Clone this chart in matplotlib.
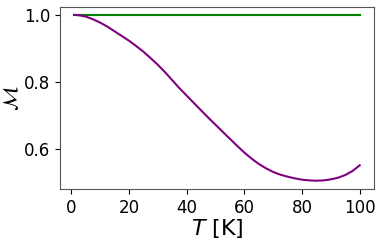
import matplotlib
matplotlib.use("Agg")
import matplotlib.pyplot as plt

# temperature grid (K) and the two curves
T = [1, 2.5, 5, 7.5, 10, 12.5, 15, 17.5, 20, 22.5, 25, 27.5, 30, 32.5, 35, 37.5,
     40, 42.5, 45, 47.5, 50, 52.5, 55, 57.5, 60, 62.5, 65, 67.5, 70, 72.5, 75,
     77.5, 80, 82.5, 85, 87.5, 90, 92.5, 95, 97.5, 100]
M_purple = [1.000, 0.999, 0.995, 0.987, 0.977, 0.965, 0.951, 0.937, 0.923, 0.907,
            0.890, 0.871, 0.851, 0.829, 0.805, 0.781, 0.759, 0.737, 0.715, 0.693,
            0.672, 0.651, 0.630, 0.609, 0.589, 0.571, 0.555, 0.542, 0.531, 0.523,
            0.517, 0.512, 0.508, 0.506, 0.505, 0.506, 0.509, 0.514, 0.522, 0.534,
            0.551]
M_green = [1.0] * len(T)

fig = plt.figure(figsize=(3.84, 2.4), dpi=100)
ax = fig.add_axes([0.156, 0.2125, 0.818, 0.76])

ax.plot(T, M_green, color="green", lw=1.5)
ax.plot(T, M_purple, color="purple", lw=1.5)

ax.set_xticks([0, 20, 40, 60, 80, 100])
ax.set_yticks([0.6, 0.8, 1.0])
ax.tick_params(labelsize=12)
ax.set_xlabel("$T$ [K]", fontsize=16, labelpad=0)
ax.set_ylabel(r"$\mathcal{M}$", fontsize=15)
ax.yaxis.set_label_coords(-0.12, 0.5)

for s in ax.spines.values():
    s.set_color("#555555")

fig.savefig("out.png", dpi=100)
